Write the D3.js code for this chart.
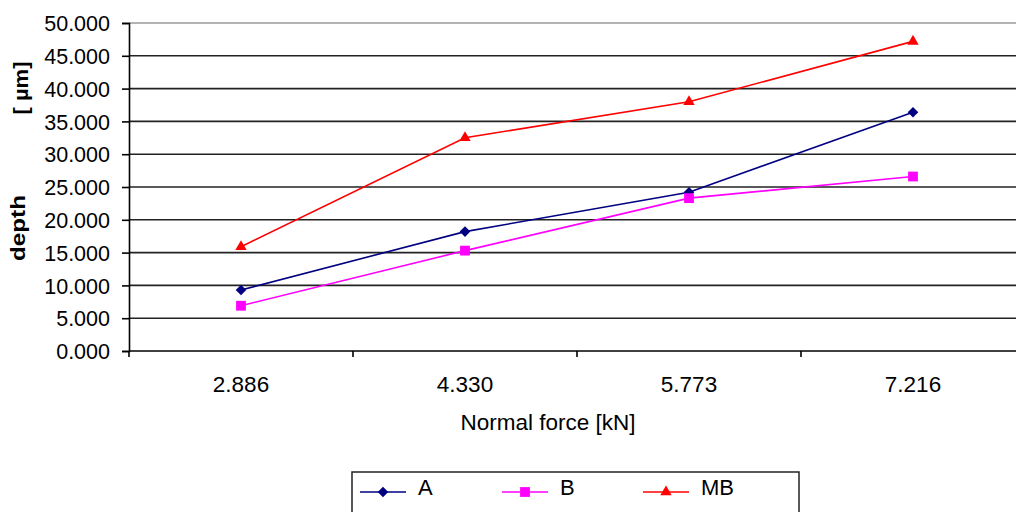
<!DOCTYPE html>
<html>
<head>
<meta charset="utf-8">
<script src="https://cdn.jsdelivr.net/npm/d3@7"></script>
<style>
  html, body { margin: 0; padding: 0; background: #fff; }
  svg { display: block; font-family: "Liberation Sans", Arial, sans-serif; }
</style>
</head>
<body>
<svg id="chart" width="1016" height="512"></svg>
<script>
// Normal force categories (kN)
const categories = ["2.886", "4.330", "5.773", "7.216"];
// Depth values (µm) per series
const seriesA  = [9.3, 18.2, 24.2, 36.4];
const seriesB  = [6.9, 15.3, 23.3, 26.6];
const seriesMB = [15.9, 32.5, 38.0, 47.2];
const seriesNames = ["A", "B", "MB"];
const yTicks = [0, 5, 10, 15, 20, 25, 30, 35, 40, 45, 50];

// diamond drawn as a square turned 45 degrees
const diamond = {
  draw(ctx, size) {
    const r = Math.sqrt(size / 2);
    ctx.moveTo(0, -r); ctx.lineTo(r, 0); ctx.lineTo(0, r); ctx.lineTo(-r, 0); ctx.closePath();
  }
};

const series = [
  { name: seriesNames[0], values: seriesA,  color: "#000080", symbol: diamond,          size: 56 },
  { name: seriesNames[1], values: seriesB,  color: "#ff00ff", symbol: d3.symbolSquare,  size: 96 },
  { name: seriesNames[2], values: seriesMB, color: "#ff0000", symbol: d3.symbolTriangle, size: 56 }
];

const svg = d3.select("#chart");
const plotLeft = 129, plotRight = 1025, plotTop = 23, plotBottom = 351;

const x = d3.scaleBand().domain(categories).range([plotLeft, plotRight]);
const y = d3.scaleLinear().domain([0, 50]).range([plotBottom, plotTop]);
const cx = c => x(c) + x.bandwidth() / 2;

// horizontal gridlines
svg.append("g").selectAll("line")
  .data(yTicks.filter(t => t > 0))
  .join("line")
  .attr("x1", plotLeft).attr("x2", 1016)
  .attr("y1", d => y(d)).attr("y2", d => y(d))
  .attr("stroke", d => d === 50 ? "#9a9a9a" : "#222")
  .attr("stroke-width", 1.6);

// y axis
const yAxis = d3.axisLeft(y).tickValues(yTicks).tickSize(7).tickPadding(12)
  .tickFormat(d3.format(".3f"));
const gy = svg.append("g").attr("transform", `translate(${plotLeft},0)`).call(yAxis);
gy.select(".domain").attr("stroke", "#000").attr("stroke-width", 1.6);
gy.selectAll(".tick line").attr("stroke", "#000").attr("stroke-width", 1.6);
gy.selectAll(".tick text").attr("font-size", 21.5).attr("fill", "#000")
  .attr("font-family", "'Liberation Sans', Arial, sans-serif").attr("dy", "0.36em");

// x axis line and category boundary ticks
svg.append("line").attr("x1", plotLeft).attr("x2", 1016)
  .attr("y1", plotBottom).attr("y2", plotBottom)
  .attr("stroke", "#000").attr("stroke-width", 1.6);
svg.append("g").selectAll("line")
  .data(categories)
  .join("line")
  .attr("x1", d => x(d)).attr("x2", d => x(d))
  .attr("y1", plotBottom).attr("y2", plotBottom + 6)
  .attr("stroke", "#000").attr("stroke-width", 1.6);

// category labels
svg.append("g").selectAll("text")
  .data(categories)
  .join("text")
  .attr("x", d => cx(d)).attr("y", 392)
  .attr("text-anchor", "middle").attr("font-size", 22.5).attr("fill", "#000")
  .text(d => d);

// axis titles
svg.append("text").attr("x", 548).attr("y", 430)
  .attr("text-anchor", "middle").attr("font-size", 22.5).attr("fill", "#000")
  .text("Normal force [kN]");
svg.append("text").attr("transform", "translate(25,228) rotate(-90)")
  .attr("text-anchor", "middle").attr("font-size", 21).attr("font-weight", "bold")
  .attr("textLength", 66).attr("lengthAdjust", "spacingAndGlyphs")
  .attr("fill", "#000").text("depth");
svg.append("text").attr("transform", "translate(28,88) rotate(-90)")
  .attr("text-anchor", "middle").attr("font-size", 21).attr("font-weight", "bold")
  .attr("textLength", 53).attr("lengthAdjust", "spacingAndGlyphs")
  .attr("fill", "#000").text("[ µm]");

// series lines and markers
const line = d3.line().x((d, i) => cx(categories[i])).y(d => y(d));
series.forEach(s => {
  svg.append("path").datum(s.values)
    .attr("d", line).attr("fill", "none")
    .attr("stroke", s.color).attr("stroke-width", 1.6);
  svg.append("g").selectAll("path")
    .data(s.values)
    .join("path")
    .attr("transform", (d, i) => `translate(${cx(categories[i])},${y(d)})`)
    .attr("d", d3.symbol().type(s.symbol).size(s.size))
    .attr("fill", s.color);
});

// legend
const legend = svg.append("g");
legend.append("rect").attr("x", 352).attr("y", 472)
  .attr("width", 447).attr("height", 60)
  .attr("fill", "#fff").attr("stroke", "#222").attr("stroke-width", 1.5);
const legendX = [360, 502, 643];
series.forEach((s, i) => {
  const lx = legendX[i], ly = 492;
  legend.append("line").attr("x1", lx).attr("x2", lx + 46)
    .attr("y1", ly).attr("y2", ly)
    .attr("stroke", s.color).attr("stroke-width", 1.6);
  legend.append("path").attr("transform", `translate(${lx + 23},${ly})`)
    .attr("d", d3.symbol().type(s.symbol).size(s.size)).attr("fill", s.color);
  legend.append("text").attr("x", lx + 58).attr("y", 495)
    .attr("font-size", 22).attr("fill", "#000").text(s.name);
});
</script>
</body>
</html>
